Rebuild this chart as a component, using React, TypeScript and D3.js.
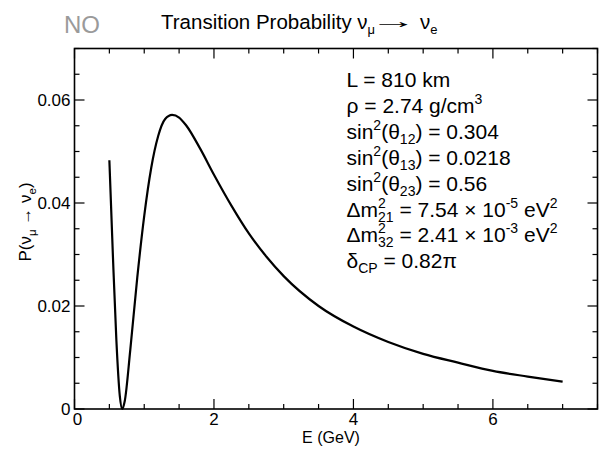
import React from "react";
import * as d3 from "d3";

const energy = [0.5, 0.55, 0.6, 0.65, 0.685, 0.72, 0.8, 0.9, 1.0, 1.1, 1.2, 1.3, 1.4, 1.5, 1.6, 1.8, 2.0, 2.25, 2.5, 2.75, 3.0, 3.5, 4.0, 4.5, 5.0, 5.5, 6.0, 6.5, 7.0];
const prob = [0.0483, 0.030, 0.0135, 0.0025, 0.0, 0.0015, 0.0115, 0.0255, 0.0375, 0.0468, 0.0530, 0.0563, 0.0571, 0.0566, 0.0551, 0.0506, 0.0455, 0.0395, 0.0341, 0.0296, 0.0258, 0.0200, 0.0160, 0.0130, 0.0107, 0.0090, 0.0074, 0.0063, 0.0053];

const xMajorTicks = [0, 2, 4, 6];
const xTickLabels = ["0", "2", "4", "6"];
const yMajorTicks = [0, 0.02, 0.04, 0.06];
const yTickLabels = ["0", "0.02", "0.04", "0.06"];
const xDomain = [0, 7.5];
const yDomain = [0, 0.07];
const xMinorStep = 0.5;
const yMinorStep = 0.005;

const FONT = "'Liberation Sans', Arial, Helvetica, sans-serif";

export default function App() {
  const W = 602, H = 449;
  const left = 74.5, right = 597.5, top = 48.5, bottom = 409;
  const x = d3.scaleLinear().domain(xDomain).range([left, right]);
  const y = d3.scaleLinear().domain(yDomain).range([bottom, top]);
  const pts = energy.map((e, i) => [e, prob[i]] as [number, number]);
  const line = d3.line<[number, number]>().x(d => x(d[0])).y(d => y(d[1])).curve(d3.curveMonotoneX);
  const xMinor = d3.range(xDomain[0], xDomain[1] + 1e-9, xMinorStep);
  const yMinor = d3.range(yDomain[0], yDomain[1] + 1e-9, yMinorStep);
  const MAJ = 10, MIN = 5;
  const isMajorX = (v: number) => xMajorTicks.some(t => Math.abs(t - v) < 1e-9);
  const isMajorY = (v: number) => yMajorTicks.some(t => Math.abs(t - v) < 1e-9);

  const ax = 346.5;
  const b0 = 87;
  const ls = 25.9;
  const fs = 21;
  const small = 14;

  return (
    <svg width={W} height={H} style={{ position: "absolute", left: 0, top: 0, background: "#fff" }} fontFamily={FONT}>
      <rect x={0} y={0} width={W} height={H} fill="#fff" />
      {/* ticks */}
      <g stroke="#000" strokeWidth={1.2}>
        {xMinor.map((v, i) => {
          const len = isMajorX(v) ? MAJ : MIN;
          return (
            <g key={"x" + i}>
              <line x1={x(v)} x2={x(v)} y1={bottom} y2={bottom - len} />
              <line x1={x(v)} x2={x(v)} y1={top} y2={top + len} />
            </g>
          );
        })}
        {yMinor.map((v, i) => {
          const len = isMajorY(v) ? MAJ : MIN;
          return (
            <g key={"y" + i}>
              <line x1={left} x2={left + len} y1={y(v)} y2={y(v)} />
              <line x1={right} x2={right - len} y1={y(v)} y2={y(v)} />
            </g>
          );
        })}
      </g>
      <rect x={left} y={top} width={right - left} height={bottom - top} fill="none" stroke="#000" strokeWidth={1.6} />
      {/* curve */}
      <path d={line(pts) || ""} fill="none" stroke="#000" strokeWidth={2.2} strokeLinejoin="round" />
      {/* tick labels */}
      <g fontSize={17} fill="#000">
        {xMajorTicks.map((v, i) => (
          <text key={"xl" + i} x={x(v) + (i === 0 ? 3 : 0)} y={bottom + 16} textAnchor="middle">{xTickLabels[i]}</text>
        ))}
        {yMajorTicks.map((v, i) => (
          <text key={"yl" + i} x={left - 4} y={y(v) + 6} textAnchor="end">{yTickLabels[i]}</text>
        ))}
      </g>
      {/* axis titles */}
      <text x={(left + right) / 2 - 5} y={443} fontSize={16} textAnchor="middle">E (GeV)</text>
      <text transform={`translate(31,222) rotate(-90)`} fontSize={17} textAnchor="middle">
        P(ν<tspan fontSize={11.5} dy={5}>μ</tspan><tspan dy={-5}> → ν</tspan><tspan fontSize={11.5} dy={5}>e</tspan><tspan dy={-5}>)</tspan>
      </text>
      {/* title */}
      <text x={64} y={33} fontSize={24} fill="#9a9a9a">NO</text>
      <text x={161} y={28.5} fontSize={20.5}>
        Transition Probability ν<tspan fontSize={13} dy={5}>μ</tspan>
      </text>
      <text transform="translate(370,28) scale(2.3,1)" x={0} y={0} fontSize={20.5}>→</text>
      <text x={420} y={28.5} fontSize={20.5}>
        ν<tspan fontSize={13} dy={5}>e</tspan>
      </text>
      {/* annotations */}
      <g fontSize={fs}>
        <text x={ax} y={b0}>L = 810 km</text>
        <text x={ax} y={b0 + ls}>ρ = 2.74 g/cm<tspan fontSize={small} dy={-9}>3</tspan></text>
        <text x={ax} y={b0 + 2 * ls}>sin<tspan fontSize={small} dy={-9}>2</tspan><tspan dy={9}>(θ</tspan><tspan fontSize={small} dy={5}>12</tspan><tspan dy={-5}>) = 0.304</tspan></text>
        <text x={ax} y={b0 + 3 * ls}>sin<tspan fontSize={small} dy={-9}>2</tspan><tspan dy={9}>(θ</tspan><tspan fontSize={small} dy={5}>13</tspan><tspan dy={-5}>) = 0.0218</tspan></text>
        <text x={ax} y={b0 + 4 * ls}>sin<tspan fontSize={small} dy={-9}>2</tspan><tspan dy={9}>(θ</tspan><tspan fontSize={small} dy={5}>23</tspan><tspan dy={-5}>) = 0.56</tspan></text>
        <text x={ax} y={b0 + 5 * ls}>Δm<tspan fontSize={small} dy={-9}>2</tspan><tspan fontSize={small} dx={-7.8} dy={14}>21</tspan><tspan dy={-5}> = 7.54 × 10</tspan><tspan fontSize={small} dy={-9}>-5</tspan><tspan dy={9}> eV</tspan><tspan fontSize={small} dy={-9}>2</tspan></text>
        <text x={ax} y={b0 + 6 * ls}>Δm<tspan fontSize={small} dy={-9}>2</tspan><tspan fontSize={small} dx={-7.8} dy={14}>32</tspan><tspan dy={-5}> = 2.41 × 10</tspan><tspan fontSize={small} dy={-9}>-3</tspan><tspan dy={9}> eV</tspan><tspan fontSize={small} dy={-9}>2</tspan></text>
        <text x={ax} y={b0 + 7 * ls}>δ<tspan fontSize={small} dy={5}>CP</tspan><tspan dy={-5}> = 0.82π</tspan></text>
      </g>
    </svg>
  );
}
